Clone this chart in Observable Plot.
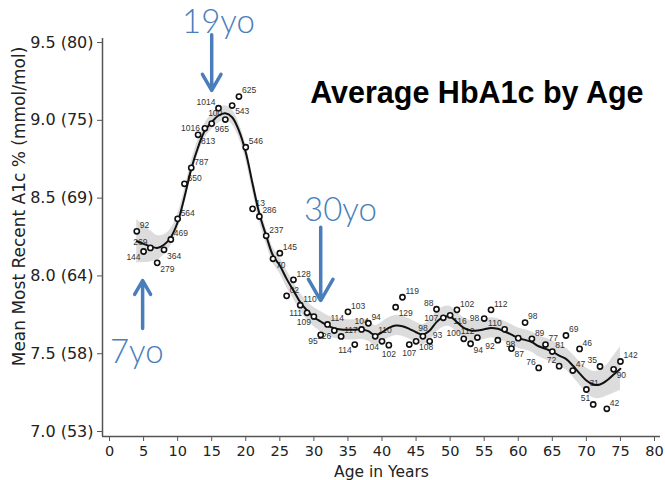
<!DOCTYPE html>
<html><head><meta charset="utf-8">
<script src="https://cdn.jsdelivr.net/npm/d3@7"></script>
<script src="https://cdn.jsdelivr.net/npm/@observablehq/plot@0.6"></script>
<style>
html,body{margin:0;padding:0;background:#fff;}
#chart{width:665px;height:480px;}
</style></head><body><div id="chart"></div>
<script>
// Ages (years)
const ages = [4,5,6,7,8,9,10,11,12,13,14,15,16,17,18,19,20,21,22,23,24,25,26,27,28,29,30,31,32,33,34,35,36,37,38,39,40,41,42,43,44,45,46,47,48,49,50,51,52,53,54,55,56,57,58,59,60,61,62,63,64,65,66,67,68,69,70,71,72,73,74,75];
// Mean most recent HbA1c (%) per age
const hba1c = [8.287,8.157,8.180,8.084,8.168,8.234,8.367,8.592,8.695,8.907,8.949,8.979,9.078,9.005,9.095,9.153,8.827,8.431,8.382,8.258,8.110,8.146,7.872,7.975,7.812,7.763,7.739,7.621,7.688,7.649,7.611,7.769,7.559,7.656,7.696,7.612,7.580,7.555,7.799,7.863,7.559,7.580,7.612,7.580,7.786,7.731,7.747,7.782,7.596,7.564,7.604,7.726,7.782,7.587,7.657,7.533,7.600,7.700,7.596,7.409,7.559,7.514,7.420,7.617,7.392,7.531,7.270,7.174,7.418,7.146,7.400,7.450];
// Point labels (patient counts, as visible)
const counts = ["92","144","269","279","364","469","564","650","787","813","1016","965","1014","100","543","625","546","13","286","237","70","145","02","128","110","111","109","95","114","126","117","103","114","104","94","110","104","102","129","119","107","108","98","93","88","107","116","102","100","94","112","98","112","92","110","87","98","98","89","76","77","81","72","69","47","46","31","51","35","42","90","142"];
// Label side relative to its point
const labelPos = ["ur","ll","ul","lr","lr","ur","ur","ur","ur","lr","l","lr","ul","ul","lr","ur","ur","ur","ur","ur","lr","ur","ur","ur","ur","l","ll","ll","ur","ll","ur","ur","ll","u","ur","ur","ll","d","lr","ur","d","lr","u","ur","ul","l","lr","ur","ul","lr","ul","l","ur","ll","ul","lr","ll","ur","ur","ul","ur","ur","ul","ur","ur","ur","ur","ul","ul","ur","lr","ur"];
// Smoothed fit and half-width of its grey band
const fitValues = [8.223,8.206,8.190,8.180,8.200,8.249,8.345,8.506,8.688,8.827,8.934,8.988,9.031,9.046,9.020,8.934,8.795,8.592,8.399,8.258,8.131,8.067,7.981,7.906,7.831,7.778,7.735,7.707,7.681,7.664,7.656,7.654,7.654,7.656,7.645,7.617,7.638,7.666,7.681,7.677,7.660,7.638,7.623,7.649,7.703,7.735,7.739,7.703,7.666,7.649,7.649,7.657,7.666,7.660,7.643,7.623,7.600,7.589,7.574,7.548,7.531,7.514,7.488,7.467,7.424,7.374,7.328,7.302,7.302,7.328,7.366,7.403];
const bandHalf = [0.140,0.120,0.100,0.080,0.065,0.055,0.050,0.048,0.048,0.048,0.048,0.048,0.048,0.048,0.048,0.048,0.050,0.050,0.050,0.050,0.050,0.052,0.055,0.055,0.058,0.060,0.062,0.065,0.065,0.065,0.065,0.065,0.065,0.065,0.065,0.065,0.065,0.065,0.065,0.065,0.065,0.065,0.065,0.065,0.065,0.065,0.065,0.065,0.065,0.065,0.065,0.065,0.065,0.065,0.065,0.065,0.065,0.065,0.065,0.068,0.070,0.070,0.070,0.070,0.072,0.075,0.080,0.085,0.090,0.100,0.120,0.140];
// Axis ticks
const xTicks = [0,5,10,15,20,25,30,35,40,45,50,55,60,65,70,75,80];
const yTicks = [7.0,7.5,8.0,8.5,9.0,9.5];
const yTickLabels = ["7.0 (53)","7.5 (58)","8.0 (64)","8.5 (69)","9.0 (75)","9.5 (80)"];
const xDomain = [-1.03, 80.88];
const yDomain = [6.968, 9.526];
// Annotations (text position, arrow x and y-span, in data units)
const notes = [
  {text:"19yo", tx:16.0, ty:9.564, ax:15.0, ay1:9.55, ay2:9.192},
  {text:"30yo", tx:33.9, ty:8.356, ax:31.0, ay1:8.313, ay2:7.842},
  {text:"7yo",  tx:4.0,  ty:7.443, ax:4.86, ay1:7.662, ay2:7.97}
];
const title = "Average HbA1c by Age";
const xTitle = "Age in Years";
const yTitle = "Mean Most Recent A1c % (mmol/mol)";

const data = ages.map((a,i)=>({age:a, value:hba1c[i], n:counts[i], pos:labelPos[i]}));
const fit = ages.map((a,i)=>({age:a, fit:fitValues[i], lo:fitValues[i]-bandHalf[i], hi:fitValues[i]+bandHalf[i]}));

const place = {
  ur:{dx:3,dy:-6,textAnchor:"start"}, ul:{dx:-3,dy:-6,textAnchor:"end"},
  lr:{dx:3,dy:6,textAnchor:"start"},  ll:{dx:-3,dy:6,textAnchor:"end"},
  l:{dx:-5,dy:0,textAnchor:"end"},    r:{dx:5,dy:0,textAnchor:"start"},
  u:{dx:0,dy:-8,textAnchor:"middle"}, d:{dx:0,dy:9,textAnchor:"middle"}
};
const blue = "#4a7ebb";

const chart = Plot.plot({
  width: 665, height: 480,
  marginLeft: 102, marginRight: 5, marginTop: 38, marginBottom: 44,
  style: {fontFamily: "DejaVu Sans", background: "white"},
  x: {domain: xDomain},
  y: {domain: yDomain},
  marks: [
    Plot.areaY(fit, {x:"age", y1:"lo", y2:"hi", fill:"#dcdcdc", curve:"catmull-rom"}),
    ...Object.entries(place).map(([k,o]) => Plot.text(data.filter(d=>d.pos===k), {
      x:"age", y:"value", text:"n", ...o, fontSize:8.5, fill:"#333",
      fontFamily:"Liberation Sans, Arial, sans-serif"})),
    Plot.line(fit, {x:"age", y:"fit", stroke:"#111", strokeWidth:2, curve:"catmull-rom"}),
    Plot.dot(data, {x:"age", y:"value", r:2.6, stroke:"#111", strokeWidth:1.6, fill:"white"}),
    Plot.ruleX([xDomain[0]], {stroke:"#555", strokeWidth:1.5}),
    Plot.ruleY([yDomain[0]], {stroke:"#555", strokeWidth:1.5}),
    Plot.axisY(yTicks, {tickSize:5, tickPadding:4, fontSize:16, stroke:"#555", fill:"#222", label:null,
      tickFormat: d => yTickLabels[yTicks.indexOf(d)]}),
    Plot.axisX(xTicks, {tickSize:5, tickPadding:4, fontSize:14.5, stroke:"#555", fill:"#222", label:null}),
    Plot.text([xTitle], {frameAnchor:"bottom", lineAnchor:"bottom", dy:40, fontSize:15.5, fill:"#222"}),
    Plot.text([yTitle], {frameAnchor:"left", textAnchor:"middle", lineAnchor:"middle", rotate:-90, dx:-83, dy:-31, fontSize:17, fill:"#222"}),
    Plot.text([title], {frameAnchor:"top-right", textAnchor:"end", lineAnchor:"bottom", dx:-17, dy:64,
      fontSize:30.5, fontWeight:"bold", fill:"#000", fontFamily:"Liberation Sans, Arial, sans-serif"}),
    Plot.arrow(notes, {x:"ax", y1:"ay1", y2:"ay2", stroke:blue, strokeWidth:3.5, headLength:19, headAngle:60}),
    Plot.text(notes, {x:"tx", y:"ty", text:"text", lineAnchor:"bottom", fontSize:33, fill:blue,
      fontWeight:300, fontFamily:"Lato, 'Open Sans', sans-serif"})
  ]
});
document.getElementById("chart").appendChild(chart);
</script></body></html>
